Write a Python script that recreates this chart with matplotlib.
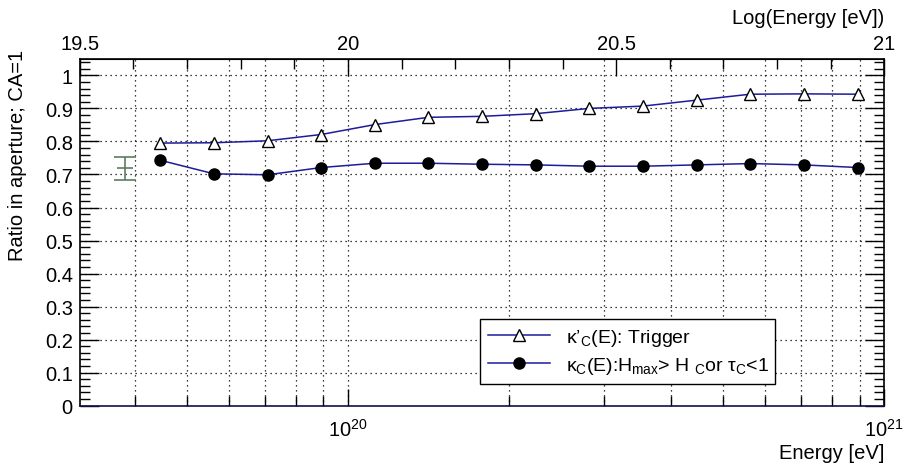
import numpy as np
import matplotlib
matplotlib.use('Agg')
import matplotlib.pyplot as plt
from matplotlib.ticker import (MultipleLocator, FixedLocator, LogLocator,
                               NullFormatter, FormatStrFormatter)

plt.rcParams['font.family'] = ['Liberation Sans', 'DejaVu Sans']
plt.rcParams['mathtext.fontset'] = 'custom'
plt.rcParams['mathtext.rm'] = 'Liberation Sans'
plt.rcParams['mathtext.it'] = 'Liberation Sans'

# log10 of energy bin centres
log_e = [19.65, 19.75, 19.85, 19.95, 20.05, 20.15, 20.25,
         20.35, 20.45, 20.55, 20.65, 20.75, 20.85, 20.95]
# kappa'_C(E): Trigger
trigger = [0.795, 0.796, 0.802, 0.821, 0.851, 0.873, 0.876,
           0.884, 0.900, 0.907, 0.925, 0.943, 0.944, 0.943]
# kappa_C(E): Hmax > HC or tauC < 1
hmax = [0.743, 0.702, 0.699, 0.721, 0.734, 0.734, 0.731,
        0.729, 0.725, 0.725, 0.729, 0.733, 0.729, 0.721]
# reference point with error bar
ref_log_e = 19.584
ref_val = 0.719
ref_lo = 0.036
ref_hi = 0.034
top_ticks = [19.5, 20, 20.5, 21]

energy = 10.0 ** np.array(log_e)

fig = plt.figure(figsize=(9.07, 4.64), dpi=100)
ax = fig.add_axes([0.088, 0.1235, 0.887, 0.7475])

line_col = '#1c1c9c'
ax.plot(energy, trigger, '-', color=line_col, lw=1.1, marker='^', ms=9,
        mfc='white', mec='black', mew=1.0, label="κ’$_{C}$(E): Trigger")
ax.plot(energy, hmax, '-', color=line_col, lw=1.1, marker='o', ms=8,
        mfc='black', mec='black',
        label="κ$_{C}$(E):H$_{max}$> H $_{C}$or τ$_{C}$<1")

ecol = '#5f7a5f'
ax.errorbar([10.0 ** ref_log_e], [ref_val], yerr=[[ref_lo], [ref_hi]], fmt='none',
            ecolor=ecol, elinewidth=1.2, capsize=8, capthick=1.2)
ax.plot([10.0 ** ref_log_e], [ref_val], marker='_', ms=11, mew=1.2, color=ecol)

ax.set_xscale('log')
ax.set_xlim(10.0 ** 19.5, 10.0 ** 21)
ax.set_ylim(0, 1.05)

ax.xaxis.set_major_locator(LogLocator(base=10, numticks=10))
ax.xaxis.set_minor_locator(LogLocator(base=10, subs=np.arange(2, 10), numticks=20))
ax.xaxis.set_minor_formatter(NullFormatter())
ax.yaxis.set_major_locator(MultipleLocator(0.1))
ax.yaxis.set_minor_locator(MultipleLocator(0.02))
ax.yaxis.set_major_formatter(FormatStrFormatter('%g'))

ax.tick_params(which='both', direction='in', labelsize=14.5, right=True)
ax.tick_params(axis='y', which='major', length=14, width=1, pad=5)
ax.tick_params(axis='y', which='minor', length=7, width=1)
ax.tick_params(axis='x', which='major', length=12, width=1, pad=9)
ax.tick_params(axis='x', which='minor', length=7, width=1)

ax.grid(True, which='major', axis='y', color='black', ls=(0, (1, 3)), lw=0.9)
ax.grid(True, which='both', axis='x', color='black', ls=(0, (1, 3)), lw=0.9)
ax.set_axisbelow(True)

for s in ax.spines.values():
    s.set_linewidth(1.2)
ax.spines['bottom'].set_color('#101050')

ax.set_ylabel('Ratio in aperture; CA=1', fontsize=14.5, loc='top')
ax.yaxis.set_label_coords(-0.066, 1.03)
ax.set_xlabel('Energy [eV]', fontsize=14.5, loc='right', labelpad=2)

top = ax.secondary_xaxis('top', functions=(np.log10, lambda v: 10.0 ** v))
top.set_xscale('linear')
top.xaxis.set_major_locator(FixedLocator(top_ticks))
top.xaxis.set_minor_locator(MultipleLocator(0.1))
top.xaxis.set_major_formatter(FormatStrFormatter('%g'))
top.xaxis.set_minor_formatter(NullFormatter())
top.tick_params(which='both', direction='in', labelsize=14.5)
top.tick_params(which='major', length=12, width=1, pad=4)
top.tick_params(which='minor', length=7, width=1)
top.set_xlabel('Log(Energy [eV])', fontsize=14.5, loc='right', labelpad=8)

leg = ax.legend(loc='lower left', bbox_to_anchor=(0.498, 0.063, 0.366, 0.214),
                mode='expand', fontsize=14, frameon=True, fancybox=False,
                edgecolor='black', framealpha=1, handlelength=3.2,
                borderaxespad=0, labelspacing=0.35)
leg.get_frame().set_linewidth(1.0)

fig.savefig('out.png', dpi=100)
